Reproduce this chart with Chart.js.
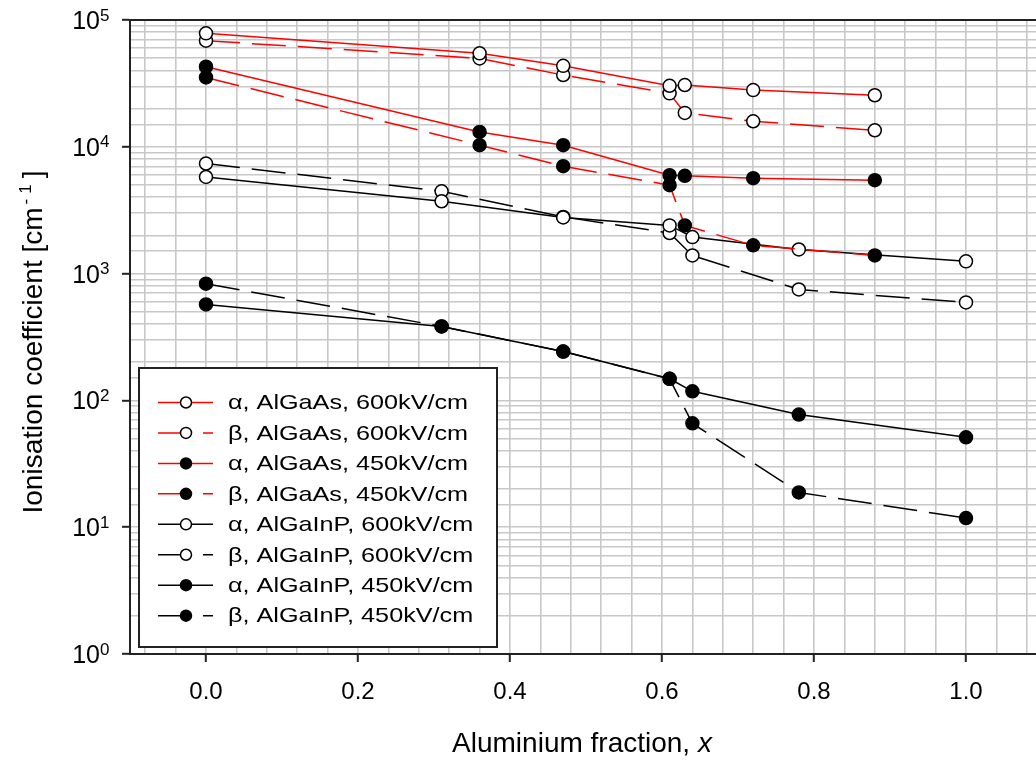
<!DOCTYPE html>
<html>
<head>
<meta charset="utf-8">
<script src="https://cdn.jsdelivr.net/npm/chart.js@4/dist/chart.umd.min.js"></script>
<style>
  html, body { margin: 0; padding: 0; background: #fff; overflow: hidden; }
  #wrap { width: 1050px; height: 763px; }
</style>
</head>
<body>
<div id="wrap"><canvas id="c" width="1050" height="763"></canvas></div>
<script>
// Aluminium fractions of the two alloy systems
const alFracAlGaAs  = [0, 0.36, 0.47, 0.61, 0.63, 0.72, 0.88];
const alFracAlGaInP = [0, 0.31, 0.47, 0.61, 0.64, 0.78, 1.0];

// Ionisation coefficients [cm^-1]
const alphaAlGaAs600  = [78500, 54600, 43500, 30300, 30700, 28000, 25500];
const betaAlGaAs600   = [68700, 49800, 36800, 26400, 18500, 15900, 13500];
const alphaAlGaAs450  = [42800, 13100, 10300, 5970, 5900, 5650, 5450];
const betaAlGaAs450   = [35200, 10300, 7030, 4980, 2400, 1670, 1390];
const alphaAlGaInP600 = [5780, 3720, 2770, 2400, 1940, 1550, 1250];
const betaAlGaInP600  = [7380, 4460, 2800, 2090, 1390, 750, 593];
const alphaAlGaInP450 = [571, 383, 243, 148, 118, 77.3, 51.2];
const betaAlGaInP450  = [832, 383, 243, 148, 65.9, 18.8, 11.8];

const seriesLabels = [
  'α, AlGaAs, 600kV/cm', 'β, AlGaAs, 600kV/cm',
  'α, AlGaAs, 450kV/cm', 'β, AlGaAs, 450kV/cm',
  'α, AlGaInP, 600kV/cm', 'β, AlGaInP, 600kV/cm',
  'α, AlGaInP, 450kV/cm', 'β, AlGaInP, 450kV/cm'
];

// Axis tick labels
const xTickLabels = ['0.0', '0.2', '0.4', '0.6', '0.8', '1.0'];
const yTickExponents = [0, 1, 2, 3, 4, 5];

const FONT = '"Liberation Sans", Arial, sans-serif';
const DASH = [34, 12];
const GRID_COLOR = '#c8c8c8';
const AXIS_COLOR = '#222';
const TEXT_COLOR = '#000';

function pts(xs, ys) { return xs.map((x, i) => ({ x: x, y: ys[i] })); }

function series(label, xs, ys, color, dashed, filled) {
  return {
    label: label,
    data: pts(xs, ys),
    borderColor: color,
    borderWidth: 1.5,
    borderDash: dashed ? DASH : [],
    pointRadius: 6.5,
    pointBorderWidth: 1.5,
    pointBorderColor: '#000',
    pointBackgroundColor: filled ? '#000' : '#fff',
    tension: 0,
    fill: false,
    isDashed: dashed,
    isFilled: filled
  };
}

const datasets = [
  series(seriesLabels[0], alFracAlGaAs, alphaAlGaAs600, '#ff0000', false, false),
  series(seriesLabels[1], alFracAlGaAs, betaAlGaAs600, '#ff0000', true, false),
  series(seriesLabels[2], alFracAlGaAs, alphaAlGaAs450, '#ff0000', false, true),
  series(seriesLabels[3], alFracAlGaAs, betaAlGaAs450, '#ff0000', true, true),
  series(seriesLabels[4], alFracAlGaInP, alphaAlGaInP600, '#000000', false, false),
  series(seriesLabels[5], alFracAlGaInP, betaAlGaInP600, '#000000', true, false),
  series(seriesLabels[6], alFracAlGaInP, alphaAlGaInP450, '#000000', false, true),
  series(seriesLabels[7], alFracAlGaInP, betaAlGaInP450, '#000000', true, true)
];

function isDecade(v) {
  const l = Math.log10(v);
  return Math.abs(l - Math.round(l)) < 1e-9;
}
function xLabelFor(v) {
  const hit = xTickLabels.find(t => Math.abs(parseFloat(t) - v) < 1e-6);
  return hit === undefined ? '' : hit;
}

// Frame, superscript tick labels, axis titles and the boxed legend
const decorations = {
  id: 'decorations',
  afterDatasetsDraw(chart) {
    const ctx = chart.ctx;
    const area = chart.chartArea;
    const ys = chart.scales.y;

    // top frame line
    ctx.save();
    ctx.strokeStyle = AXIS_COLOR;
    ctx.lineWidth = 2;
    ctx.beginPath();
    ctx.moveTo(area.left - 1, area.top);
    ctx.lineTo(area.right, area.top);
    ctx.stroke();
    ctx.restore();

    // y tick labels: 10 with superscript exponent
    ctx.save();
    ctx.fillStyle = TEXT_COLOR;
    ctx.textBaseline = 'alphabetic';
    yTickExponents.forEach(e => {
      const py = ys.getPixelForValue(Math.pow(10, e));
      ctx.font = '25px ' + FONT;
      ctx.textAlign = 'right';
      ctx.fillText('10', 100, py + 9);
      ctx.font = '17px ' + FONT;
      ctx.textAlign = 'left';
      ctx.fillText(String(e), 100, py + 0.5);
    });
    ctx.restore();

    // x axis title
    ctx.save();
    ctx.fillStyle = TEXT_COLOR;
    ctx.textBaseline = 'alphabetic';
    const t1 = 'Aluminium fraction, ';
    const t2 = 'x';
    ctx.font = '28px ' + FONT;
    const w1 = ctx.measureText(t1).width;
    ctx.font = 'italic 28px ' + FONT;
    const w2 = ctx.measureText(t2).width;
    let sx = 582 - (w1 + w2) / 2;
    ctx.font = '28px ' + FONT;
    ctx.textAlign = 'left';
    ctx.fillText(t1, sx, 752);
    ctx.font = 'italic 28px ' + FONT;
    ctx.fillText(t2, sx + w1, 752);
    ctx.restore();

    // y axis title, rotated
    ctx.save();
    ctx.fillStyle = TEXT_COLOR;
    ctx.translate(42, 342);
    ctx.rotate(-Math.PI / 2);
    const a1 = 'Ionisation coefficient [cm';
    const a2 = '-1';
    const a3 = ']';
    ctx.font = '28px ' + FONT;
    const m1 = ctx.measureText(a1).width;
    const m3 = ctx.measureText(a3).width;
    ctx.font = '17px ' + FONT;
    ctx.letterSpacing = '5px';
    const m2 = ctx.measureText(a2).width + 4;
    let ox = -(m1 + m2 + m3) / 2;
    ctx.textAlign = 'left';
    ctx.textBaseline = 'alphabetic';
    ctx.letterSpacing = '0px';
    ctx.font = '28px ' + FONT;
    ctx.fillText(a1, ox, 0);
    ctx.font = '17px ' + FONT;
    ctx.letterSpacing = '5px';
    ctx.fillText(a2, ox + m1 + 3, -11);
    ctx.letterSpacing = '0px';
    ctx.font = '28px ' + FONT;
    ctx.fillText(a3, ox + m1 + m2, 0);
    ctx.restore();

    // legend
    const box = { x: 139, y: 368, w: 358, h: 279 };
    ctx.save();
    ctx.fillStyle = '#fff';
    ctx.fillRect(box.x, box.y, box.w, box.h);
    ctx.strokeStyle = AXIS_COLOR;
    ctx.lineWidth = 2;
    ctx.strokeRect(box.x, box.y, box.w, box.h);
    chart.data.datasets.forEach((ds, i) => {
      const ry = 402.5 + i * 30.45;
      const mx = 186;
      ctx.strokeStyle = ds.borderColor;
      ctx.lineWidth = 1.5;
      ctx.setLineDash([]);
      ctx.beginPath();
      ctx.moveTo(158, ry);
      ctx.lineTo(mx, ry);
      if (ds.isDashed) {
        ctx.moveTo(203, ry);
        ctx.lineTo(213, ry);
      } else {
        ctx.lineTo(213, ry);
      }
      ctx.stroke();
      ctx.beginPath();
      ctx.arc(mx, ry, 5.5, 0, Math.PI * 2);
      ctx.fillStyle = ds.isFilled ? '#000' : '#fff';
      ctx.fill();
      ctx.strokeStyle = '#000';
      ctx.lineWidth = 1.5;
      ctx.stroke();
      ctx.save();
      ctx.translate(228, ry);
      ctx.scale(1.2, 1);
      ctx.font = '21px ' + FONT;
      ctx.fillStyle = TEXT_COLOR;
      ctx.textAlign = 'left';
      ctx.textBaseline = 'middle';
      ctx.fillText(ds.label, 0, 1);
      ctx.restore();
    });
    ctx.restore();
  }
};

new Chart(document.getElementById('c'), {
  type: 'line',
  data: { datasets: datasets },
  options: {
    responsive: false,
    animation: false,
    devicePixelRatio: 1,
    layout: { padding: { top: 20, right: 8, left: 0, bottom: 0 } },
    plugins: {
      legend: { display: false },
      tooltip: { enabled: false }
    },
    scales: {
      x: {
        type: 'linear',
        min: -0.1,
        max: 1.1,
        afterBuildTicks(scale) {
          const step = 0.04;
          const ticks = [];
          for (let k = Math.ceil(scale.min / step - 1e-9); k * step <= scale.max + 1e-9; k++) {
            ticks.push({ value: +(k * step).toFixed(4) });
          }
          scale.ticks = ticks;
        },
        afterFit(scale) { scale.height = 109; },
        grid: {
          color: GRID_COLOR,
          lineWidth: 1.6,
          drawTicks: true,
          tickLength: 8,
          tickColor: c => (c.tick && xLabelFor(c.tick.value) !== '') ? AXIS_COLOR : 'rgba(0,0,0,0)',
          tickWidth: 2
        },
        border: { display: true, color: AXIS_COLOR, width: 2 },
        ticks: {
          autoSkip: false,
          maxRotation: 0,
          padding: 16,
          color: TEXT_COLOR,
          font: { family: FONT, size: 24 },
          callback: v => xLabelFor(v)
        }
      },
      y: {
        type: 'logarithmic',
        min: 1,
        max: 100000,
        afterFit(scale) { scale.width = 130; },
        grid: {
          color: GRID_COLOR,
          lineWidth: 1.6,
          drawTicks: true,
          tickLength: 8,
          tickColor: c => (c.tick && isDecade(c.tick.value)) ? AXIS_COLOR : 'rgba(0,0,0,0)',
          tickWidth: 2
        },
        border: { display: true, color: AXIS_COLOR, width: 2 },
        ticks: {
          autoSkip: false,
          color: 'rgba(0,0,0,0)',
          font: { family: FONT, size: 10 },
          callback: () => ''
        }
      }
    }
  },
  plugins: [decorations]
});
</script>
</body>
</html>
